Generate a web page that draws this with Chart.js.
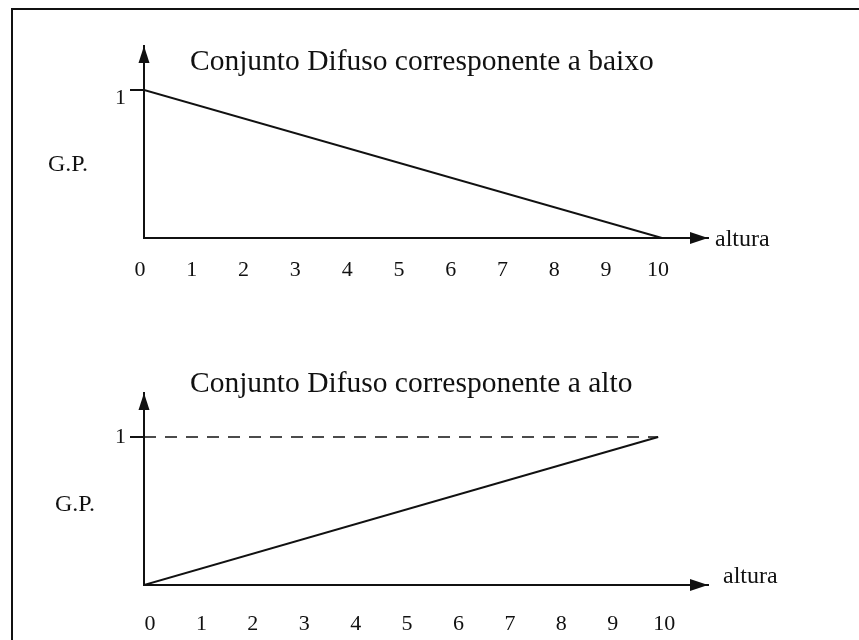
<!DOCTYPE html>
<html>
<head>
<meta charset="utf-8">
<script src="https://cdn.jsdelivr.net/npm/chart.js@4/dist/chart.umd.min.js"></script>
<style>
  body { margin: 0; background: #fff; }
  #quadro { position: absolute; left: 11px; top: 8px; width: 848px; height: 632px;
            border-left: 2px solid #111; border-top: 2px solid #111; }
  canvas { position: absolute; left: 0; }
</style>
</head>
<body>
<div id="quadro"></div>
<canvas id="grafBaixo" width="859" height="320" style="top:0"></canvas>
<canvas id="grafAlto" width="859" height="320" style="top:320px"></canvas>
<script>
// valores dos dois conjuntos difusos
var alturaTicks = [0, 1, 2, 3, 4, 5, 6, 7, 8, 9, 10];
var gpTicks = [1];
var baixoX = [0, 10];
var baixoY = [1, 0];
var altoX = [0, 10];
var altoY = [0, 1];
var limiteX = [0, 10];
var limiteY = [1, 1];

var fonte = '"Liberation Serif", "Times New Roman", serif';

function pontos(xs, ys) {
    return xs.map(function (x, i) { return {x: x, y: ys[i]}; });
}

// setas dos eixos e textos soltos
var rotulos = {
    id: 'rotulos',
    afterDraw: function (chart, args, opts) {
        var ctx = chart.ctx;
        var a = chart.chartArea;
        var base = chart.scales.x.getPixelForValue(0);
        var zeroY = chart.scales.y.getPixelForValue(0);
        ctx.save();
        ctx.fillStyle = '#111';
        // seta vertical
        ctx.beginPath();
        ctx.moveTo(base, a.top);
        ctx.lineTo(base - 5.5, a.top + 17);
        ctx.lineTo(base + 5.5, a.top + 17);
        ctx.closePath();
        ctx.fill();
        // seta horizontal
        ctx.beginPath();
        ctx.moveTo(a.right, zeroY);
        ctx.lineTo(a.right - 18, zeroY - 6);
        ctx.lineTo(a.right - 18, zeroY + 6);
        ctx.closePath();
        ctx.fill();

        ctx.textAlign = 'left';
        ctx.textBaseline = 'alphabetic';
        ctx.font = '29.5px ' + fonte;
        ctx.fillText(opts.titulo, base + 46, opts.tituloY);
        ctx.font = '24px ' + fonte;
        ctx.fillText('altura', a.right + opts.alturaDx, zeroY + opts.alturaDy);
        ctx.textBaseline = 'middle';
        ctx.fillText('G.P.', opts.gpX, opts.gpY);
        ctx.restore();
    }
};

function criaGrafico(id, conjuntos, cfg) {
    var ctx = document.getElementById(id).getContext('2d');
    return new Chart(ctx, {
        type: 'scatter',
        data: { datasets: conjuntos },
        options: {
            responsive: false,
            animation: false,
            layout: { padding: { left: 0, top: cfg.topo, right: 151, bottom: 0 } },
            plugins: {
                legend: { display: false },
                tooltip: { enabled: false },
                rotulos: cfg.rotulos
            },
            scales: {
                x: {
                    type: 'linear',
                    min: 0,
                    max: cfg.maxX,
                    afterFit: function (scale) { scale.height = cfg.alturaEixoX; },
                    afterBuildTicks: function (scale) {
                        scale.ticks = alturaTicks.map(function (v) { return {value: v}; });
                    },
                    grid: { display: false, drawTicks: false },
                    border: { display: true, color: '#111', width: 2 },
                    ticks: {
                        color: '#111',
                        font: { family: fonte, size: 22 },
                        padding: cfg.padX,
                        labelOffset: cfg.offsetX,
                        maxRotation: 0,
                        autoSkip: false
                    }
                },
                y: {
                    type: 'linear',
                    min: 0,
                    max: 1.297,
                    afterFit: function (scale) { scale.width = 144; },
                    afterBuildTicks: function (scale) {
                        scale.ticks = gpTicks.map(function (v) { return {value: v}; });
                    },
                    grid: { display: true, drawOnChartArea: false, tickLength: 14, color: '#111', lineWidth: 2 },
                    border: { display: true, color: '#111', width: 2 },
                    ticks: {
                        color: '#111',
                        font: { family: fonte, size: 22 },
                        padding: 4,
                        labelOffset: cfg.offsetY
                    }
                }
            }
        },
        plugins: [rotulos]
    });
}

criaGrafico('grafBaixo', [
    { data: pontos(baixoX, baixoY), showLine: true, borderColor: '#111', borderWidth: 2, pointRadius: 0 }
], {
    topo: 46, maxX: 10.89, alturaEixoX: 82, padX: 19, offsetX: -4, offsetY: 8,
    rotulos: { titulo: 'Conjunto Difuso corresponente a baixo', tituloY: 70,
               gpX: 48, gpY: 165, alturaDx: 7, alturaDy: 8 }
});

criaGrafico('grafAlto', [
    { data: pontos(limiteX, limiteY), showLine: true, borderColor: '#111', borderWidth: 1.5,
      borderDash: [12, 9], pointRadius: 0 },
    { data: pontos(altoX, altoY), showLine: true, borderColor: '#111', borderWidth: 2, pointRadius: 0 }
], {
    topo: 73, maxX: 10.97, alturaEixoX: 55, padX: 26, offsetX: 6, offsetY: 0,
    rotulos: { titulo: 'Conjunto Difuso corresponente a alto', tituloY: 72,
               gpX: 55, gpY: 185, alturaDx: 15, alturaDy: -2 }
});
</script>
</body>
</html>
